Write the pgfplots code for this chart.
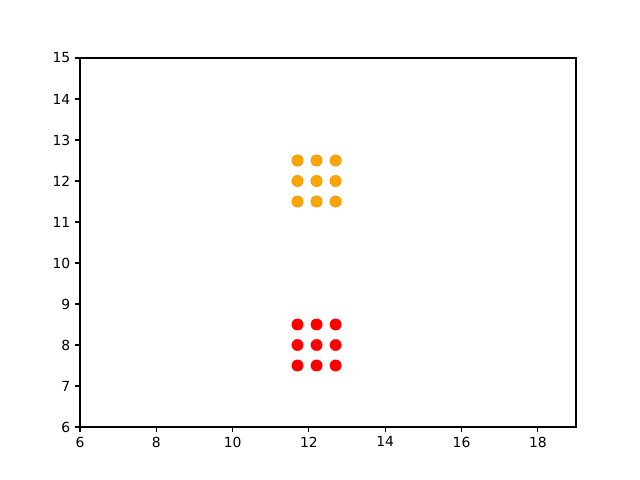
\documentclass[border=0pt]{standalone}
\usepackage{fontspec}
\setmainfont{DejaVu Sans}
\usepackage{pgfplots}
\pgfplotsset{compat=1.18}
\definecolor{mplorange}{RGB}{255,165,0}
\definecolor{mplorangeedge}{RGB}{225,140,20}

\begin{document}
\begin{tikzpicture}
\path[use as bounding box] (-57.6pt,-38.16pt) rectangle (403.2pt,307.44pt);
\begin{axis}[
  at={(0,0)}, anchor=origin,
  scale only axis,
  width=357.12pt, height=265.68pt,
  xmin=6, xmax=19, ymin=6, ymax=15,
  xtick={6,8,...,18}, ytick={6,7,...,15},
  tick align=outside, tick pos=left,
  major tick length=3.5pt,
  every tick/.style={black, line width=0.8pt},
  axis line style={line width=0.8pt},
  tick label style={font=\fontsize{10}{12}\selectfont},
  /pgf/number format/assume math mode=true,
  clip=false,
]
\addplot[only marks, mark=*, mark size=4.1pt, mark options={fill=mplorange, draw=mplorangeedge, line width=0.3pt}] coordinates {
  (11.7,11.5) (12.2,11.5) (12.7,11.5)
  (11.7,12) (12.2,12) (12.7,12)
  (11.7,12.5) (12.2,12.5) (12.7,12.5)
};
\addplot[only marks, mark=*, mark size=4.1pt, mark options={fill=red, draw=red, line width=0.3pt}] coordinates {
  (11.7,7.5) (12.2,7.5) (12.7,7.5)
  (11.7,8) (12.2,8) (12.7,8)
  (11.7,8.5) (12.2,8.5) (12.7,8.5)
};
\end{axis}
\end{tikzpicture}
\end{document}
